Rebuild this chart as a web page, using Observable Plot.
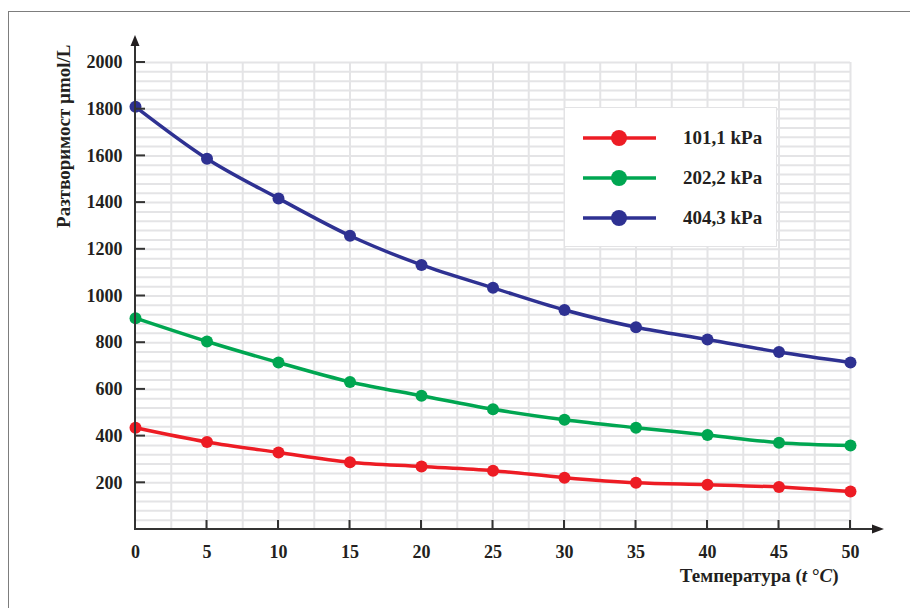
<!DOCTYPE html>
<html>
<head>
<meta charset="utf-8">
<script src="https://cdn.jsdelivr.net/npm/d3@7"></script>
<script src="https://cdn.jsdelivr.net/npm/@observablehq/plot@0.6"></script>
<style>
  body { margin: 0; background: #fff; }
  #wrap { position: relative; width: 910px; height: 608px; overflow: hidden; background: #fff; }
  #frame { position: absolute; left: 8px; top: 11px; right: -10px; bottom: -10px;
           border-left: 1.5px solid #7d7d7d; border-top: 1.5px solid #7d7d7d; pointer-events: none; }
  #chart { position: absolute; left: 0; top: 0; }
  #legend { position: absolute; left: 564px; top: 107px; width: 213px; height: 140px;
            background: #fff; border: 1px solid #e3e3e5; box-sizing: border-box; }
  .lrow { position: absolute; left: 0; height: 20px; width: 213px; }
  .lrow svg { position: absolute; left: 17px; top: 0; }
  .lrow span { position: absolute; left: 118px; top: 0; line-height: 20px;
               font-family: 'Liberation Serif', serif; font-weight: bold; font-size: 19px; color: #231f20; white-space: nowrap; }
</style>
</head>
<body>
<div id="wrap">
  <div id="chart"></div>
  <div id="legend"></div>
  <div id="frame"></div>
</div>
<script>
// ---- data ----
const temps = [0, 5, 10, 15, 20, 25, 30, 35, 40, 45, 50];
const seriesNames = ["101,1 kPa", "202,2 kPa", "404,3 kPa"];
const seriesColors = ["#ed1c24", "#00a651", "#2e3192"];
const s101 = [436, 375, 330, 288, 270, 252, 222, 200, 192, 182, 163];
const s202 = [905, 805, 715, 632, 573, 515, 470, 436, 405, 372, 360];
const s404 = [1810, 1588, 1418, 1258, 1133, 1035, 940, 866, 814, 760, 715];
const xTicks = [0, 5, 10, 15, 20, 25, 30, 35, 40, 45, 50];
const yTicks = [200, 400, 600, 800, 1000, 1200, 1400, 1600, 1800, 2000];
const yTitle = "Разтворимост µmol/L";
const xTitleParts = [["Температура (", false], ["t", true], [" °", false], ["C", true], [")", false]];
const xTitle = xTitleParts.map(p => p[0]).join("");

const seriesValues = [s101, s202, s404];
const data = seriesNames.flatMap((name, i) => temps.map((t, j) => ({t, v: seriesValues[i][j], name})));
const xGrid = d3.range(2.5, 50.01, 2.5);
const yGrid = d3.range(40, 2000.01, 40);

const ink = "#231f20";
const serif = "'Liberation Serif', serif";

const plot = Plot.plot({
  width: 910,
  height: 608,
  marginLeft: 135,
  marginRight: 60,
  marginTop: 62,
  marginBottom: 79,
  x: {domain: [0, 50]},
  y: {domain: [0, 2000]},
  color: {domain: seriesNames, range: seriesColors},
  style: {fontFamily: serif, fontSize: "18px", fontWeight: "bold", color: ink, background: "transparent"},
  marks: [
    Plot.ruleX(xGrid, {stroke: "#e4e4e6", strokeWidth: 2}),
    Plot.ruleY(yGrid, {stroke: "#e4e4e6", strokeWidth: 2}),
    Plot.axisX({ticks: xTicks, tickSize: 0, tickPadding: 16, label: null, fontSize: 18, fontFamily: serif, tickFormat: d => String(d)}),
    Plot.axisY({ticks: yTicks, tickSize: 0, tickPadding: 13, label: null, fontSize: 18, fontFamily: serif, tickFormat: d => String(d)}),
    Plot.line(data, {x: "t", y: "v", stroke: "name", strokeWidth: 3.5, curve: "monotone-x"}),
    Plot.dot(data, {x: "t", y: "v", fill: "name", r: 6}),
    Plot.text([yTitle], {frameAnchor: "top-left", rotate: -90, textAnchor: "end", dx: -79, dy: -18, fill: ink, fontSize: 19, fontFamily: serif}),
    Plot.text([xTitle], {frameAnchor: "bottom-right", textAnchor: "end", dx: -12, dy: 52, fill: ink, fontSize: 19, fontFamily: serif})
  ]
});

// axes with arrows, drawn with the plot's own scales
const xs = plot.scale("x"), ys = plot.scale("y");
const svg = d3.select(plot);
const x0 = xs.apply(0), y0 = ys.apply(0);
const yTop = ys.apply(2000), xRight = xs.apply(50);
const ax = svg.append("g").attr("stroke", "#333").attr("stroke-width", 2).attr("fill", "none");
ax.append("line").attr("x1", x0).attr("x2", x0).attr("y1", y0 + 1).attr("y2", yTop - 18);
ax.append("line").attr("x1", x0 - 1).attr("x2", xRight + 25).attr("y1", y0).attr("y2", y0);
yTicks.forEach(v => ax.append("line").attr("x1", x0).attr("x2", x0 + 10).attr("y1", ys.apply(v)).attr("y2", ys.apply(v)));
xTicks.filter(v => v !== 0).forEach(v => ax.append("line").attr("x1", xs.apply(v)).attr("x2", xs.apply(v)).attr("y1", y0).attr("y2", y0 - 9));
const ah = svg.append("g").attr("fill", ink);
ah.append("path").attr("d", `M${x0},${yTop - 27} L${x0 - 4.5},${yTop - 16} L${x0 + 4.5},${yTop - 16} Z`);
ah.append("path").attr("d", `M${xRight + 34},${y0} L${xRight + 22},${y0 - 4.5} L${xRight + 22},${y0 + 4.5} Z`);

// italic parts of x title
svg.selectAll("text").filter(function() { return this.textContent === xTitle; }).each(function() {
  const t = d3.select(this);
  t.text(null);
  xTitleParts.forEach(([s, it]) => {
    const sp = t.append("tspan").text(s);
    if (it) sp.attr("font-style", "italic");
  });
});

document.getElementById("chart").appendChild(plot);

// legend
const leg = d3.select("#legend");
seriesNames.forEach((name, i) => {
  const row = leg.append("div").attr("class", "lrow").style("top", (20 + i * 40) + "px");
  const s = row.append("svg").attr("width", 76).attr("height", 20);
  s.append("line").attr("x1", 1).attr("x2", 74).attr("y1", 10).attr("y2", 10).attr("stroke", seriesColors[i]).attr("stroke-width", 3.5);
  s.append("circle").attr("cx", 37).attr("cy", 10).attr("r", 8).attr("fill", seriesColors[i]);
  row.append("span").text(name);
});
</script>
</body>
</html>
